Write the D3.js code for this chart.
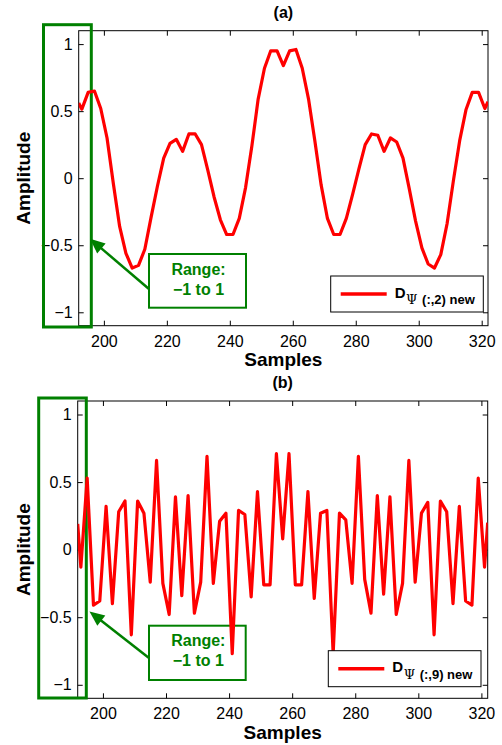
<!DOCTYPE html>
<html>
<head>
<meta charset="utf-8">
<script src="https://cdn.jsdelivr.net/npm/d3@7"></script>
<style>
  body { margin: 0; background: #fff; }
</style>
</head>
<body>
<div id="chart"></div>
<script>
// ################################## DATA ##################################
// (a) D_psi(:,2) new  -- vertices
var samplesA = [192, 193, 195, 197, 199, 201, 203, 205, 207, 209, 211, 213, 215, 217, 219,
    221, 223, 225, 227, 229, 231, 233, 235, 237, 239, 241, 243, 245, 247, 249, 251, 253,
    255, 257, 259, 261, 263, 265, 267, 269, 271, 273, 275, 277, 279, 281, 283, 285, 287,
    289, 291, 293, 295, 297, 299, 301, 303, 305, 307, 309, 311, 313, 315, 317, 319, 321, 322];
var amplitudeA = [0.56, 0.515, 0.64, 0.65, 0.52, 0.30, -0.04, -0.36, -0.56, -0.67, -0.65, -0.53,
    -0.29, -0.06, 0.15, 0.26, 0.29, 0.20, 0.33, 0.33, 0.25, 0.06, -0.14, -0.31, -0.42, -0.42,
    -0.30, -0.07, 0.24, 0.59, 0.82, 0.95, 0.95, 0.84, 0.95, 0.96, 0.82, 0.59, 0.28, -0.05,
    -0.30, -0.42, -0.42, -0.30, -0.12, 0.07, 0.25, 0.33, 0.32, 0.20, 0.30, 0.27, 0.15, -0.08,
    -0.32, -0.52, -0.64, -0.67, -0.57, -0.34, -0.02, 0.28, 0.51, 0.64, 0.64, 0.52, 0.57];

// (b) D_psi(:,9) new
var samplesB = [192, 193, 195, 197, 199, 201, 203, 205, 207, 209, 211, 213, 215, 217, 219,
    221, 223, 225, 227, 229, 231, 233, 235, 237, 239, 241, 243, 245, 247, 249, 251, 253,
    255, 257, 259, 261, 263, 265, 267, 269, 271, 273, 275, 277, 279, 281, 283, 285, 287,
    289, 291, 293, 295, 297, 299, 301, 303, 305, 307, 309, 311, 313, 315, 317, 319, 321, 322];
var amplitudeB = [0.19, -0.13, 0.53, -0.41, -0.38, 0.32, -0.40, 0.28, 0.36, -0.63, 0.36, 0.27,
    -0.24, 0.66, -0.25, -0.48, 0.39, -0.34, 0.40, -0.47, -0.24, 0.69, -0.25, 0.21, 0.27, -0.77,
    0.29, 0.26, -0.35, 0.43, -0.26, -0.26, 0.71, 0.08, 0.71, -0.26, -0.26, 0.43, -0.36, 0.27,
    0.29, -0.77, 0.27, 0.22, -0.25, 0.69, -0.22, -0.47, 0.40, -0.33, 0.39, -0.48, -0.25, 0.66,
    -0.24, 0.27, 0.35, -0.63, 0.36, 0.28, -0.40, 0.32, -0.38, -0.41, 0.53, -0.13, 0.20];

var xTicks = [200, 220, 240, 260, 280, 300, 320];
var yTicks = [-1, -0.5, 0, 0.5, 1];
var xDomain = [192, 322];
var yDomain = [-1.1, 1.1];
var panelTitles = ['(a)', '(b)'];
var legendSubs = ['(:,2) new', '(:,9) new'];
var noteLines = ['Range:', '\u22121 to 1'];

// ################################## ATTRS ##################################
var attrs = {
    svgWidth: 502,
    svgHeight: 745,
    defaultFont: '"Liberation Sans", Arial, Helvetica, sans-serif',
    lineColor: '#ff0000',
    noteColor: '#008000',
    tickFont: 16,
    labelFont: 19
};

// panel layout (pixels)
var layout = [
    { left: 78.7, right: 488, top: 30.7, bottom: 325.7,
      bigRect: [43.5, 24.7, 47.8, 302.3],
      noteBox: [149, 254, 97, 53.7],
      arrowFrom: [149, 289], arrowTo: [90, 238.7],
      legend: [330.7, 276, 152.6, 36] },
    { left: 77.7, right: 487.7, top: 401, bottom: 698.3,
      bigRect: [38.7, 398, 47.6, 300],
      noteBox: [149, 625.7, 96.7, 54.3],
      arrowFrom: [149, 658], arrowTo: [89.5, 611.5],
      legend: [328.3, 650.7, 152.7, 36] }
];

var svg = d3.select('#chart').append('svg')
    .attr('width', attrs.svgWidth)
    .attr('height', attrs.svgHeight)
    .attr('font-family', attrs.defaultFont);

var defs = svg.append('defs');

var series = [
    { samples: samplesA, amplitude: amplitudeA },
    { samples: samplesB, amplitude: amplitudeB }
];

series.forEach(function (s, i) {
    var p = layout[i];
    var x = d3.scaleLinear().domain(xDomain).range([p.left, p.right]);
    var y = d3.scaleLinear().domain(yDomain).range([p.bottom, p.top]);
    var w = p.right - p.left, h = p.bottom - p.top;
    var g = svg.append('g').attr('class', 'panel panel-' + i);

    defs.append('clipPath').attr('id', 'clip' + i)
        .append('rect').attr('x', p.left).attr('y', p.top).attr('width', w).attr('height', h);

    //################ axes (ticks inward on all four sides) ################
    function styleAxis(sel) {
        sel.select('.domain').remove();
        sel.selectAll('line').attr('stroke', '#000').attr('stroke-width', 1);
        sel.selectAll('text').attr('font-size', attrs.tickFont)
            .attr('font-family', attrs.defaultFont).attr('fill', '#000');
    }
    g.append('g').attr('transform', 'translate(0,' + p.bottom + ')')
        .call(d3.axisBottom(x).tickValues(xTicks).tickSizeInner(-5).tickSizeOuter(0)
            .tickPadding(9.5).tickFormat(d3.format('')))
        .call(styleAxis);
    g.append('g').attr('transform', 'translate(0,' + p.top + ')')
        .call(d3.axisTop(x).tickValues(xTicks).tickSizeInner(-5).tickSizeOuter(0).tickFormat(''))
        .call(styleAxis);
    g.append('g').attr('transform', 'translate(' + p.left + ',0)')
        .call(d3.axisLeft(y).tickValues(yTicks).tickSizeInner(-5).tickSizeOuter(0)
            .tickPadding(6).tickFormat(d3.format('')))
        .call(styleAxis);
    g.append('g').attr('transform', 'translate(' + p.right + ',0)')
        .call(d3.axisRight(y).tickValues(yTicks).tickSizeInner(-5).tickSizeOuter(0).tickFormat(''))
        .call(styleAxis);

    g.append('rect')
        .attr('x', p.left).attr('y', p.top).attr('width', w).attr('height', h)
        .attr('fill', 'none').attr('stroke', '#000').attr('stroke-width', 1);

    //################ labels ################
    g.append('text')
        .attr('x', (p.left + p.right) / 2).attr('y', p.top - 13)
        .attr('text-anchor', 'middle').attr('font-size', 16).attr('font-weight', 'bold')
        .text(panelTitles[i]);

    g.append('text')
        .attr('x', (p.left + p.right) / 2).attr('y', p.bottom + 40.5)
        .attr('text-anchor', 'middle').attr('font-size', attrs.labelFont).attr('font-weight', 'bold')
        .text('Samples');

    g.append('text')
        .attr('transform', 'translate(30,' + ((p.top + p.bottom) / 2) + ') rotate(-90)')
        .attr('text-anchor', 'middle').attr('font-size', attrs.labelFont).attr('font-weight', 'bold')
        .text('Amplitude');

    //################ annotation ################
    var br = p.bigRect;
    g.append('rect')
        .attr('x', br[0]).attr('y', br[1]).attr('width', br[2]).attr('height', br[3])
        .attr('fill', 'none').attr('stroke', attrs.noteColor).attr('stroke-width', 3);

    var nb = p.noteBox;
    g.append('rect')
        .attr('x', nb[0]).attr('y', nb[1]).attr('width', nb[2]).attr('height', nb[3])
        .attr('fill', 'none').attr('stroke', attrs.noteColor).attr('stroke-width', 2);
    noteLines.forEach(function (t, k) {
        g.append('text')
            .attr('x', nb[0] + nb[2] / 2 + 1).attr('y', nb[1] + 20.5 + k * 20)
            .attr('text-anchor', 'middle').attr('font-size', 16).attr('font-weight', 'bold')
            .attr('fill', attrs.noteColor)
            .text(t);
    });

    // arrow
    var a0 = p.arrowFrom, a1 = p.arrowTo;
    var dx = a1[0] - a0[0], dy = a1[1] - a0[1];
    var len = Math.sqrt(dx * dx + dy * dy);
    var ux = dx / len, uy = dy / len;
    var headL = 15, headW = 6.5;
    var bx = a1[0] - ux * headL, by = a1[1] - uy * headL;
    g.append('line')
        .attr('x1', a0[0]).attr('y1', a0[1]).attr('x2', bx + ux * 2).attr('y2', by + uy * 2)
        .attr('stroke', attrs.noteColor).attr('stroke-width', 2.5);
    g.append('path')
        .attr('d', 'M' + a1[0] + ',' + a1[1] +
            'L' + (bx - uy * headW) + ',' + (by + ux * headW) +
            'L' + (bx + uy * headW) + ',' + (by - ux * headW) + 'Z')
        .attr('fill', attrs.noteColor);

    //################ signal (drawn over the note box) ################
    var line = d3.line()
        .x(function (d, k) { return x(s.samples[k]); })
        .y(function (d) { return y(d); });

    g.append('path')
        .datum(s.amplitude)
        .attr('clip-path', 'url(#clip' + i + ')')
        .attr('d', line)
        .attr('fill', 'none')
        .attr('stroke', attrs.lineColor)
        .attr('stroke-width', 3.2)
        .attr('stroke-linejoin', 'round');

    //################ legend ################
    var lg = p.legend;
    g.append('rect')
        .attr('x', lg[0]).attr('y', lg[1]).attr('width', lg[2]).attr('height', lg[3])
        .attr('fill', '#fff').attr('stroke', '#000').attr('stroke-width', 1);
    g.append('line')
        .attr('x1', lg[0] + 10).attr('x2', lg[0] + 56)
        .attr('y1', lg[1] + 18).attr('y2', lg[1] + 18)
        .attr('stroke', attrs.lineColor).attr('stroke-width', 3.5);
    var lt = g.append('text')
        .attr('x', lg[0] + 64).attr('y', lg[1] + 21.5)
        .attr('font-weight', 'bold').attr('font-size', 15);
    lt.append('tspan').text('D');
    lt.append('tspan').attr('dy', 6.5).attr('dx', 0.5)
        .attr('font-family', '"DejaVu Serif", "Liberation Serif", serif')
        .attr('font-weight', 'normal').attr('font-size', 13)
        .text('\u03A8');
    lt.append('tspan').attr('font-size', 13).attr('dx', 1).text(' ' + legendSubs[i]);
});
</script>
</body>
</html>
